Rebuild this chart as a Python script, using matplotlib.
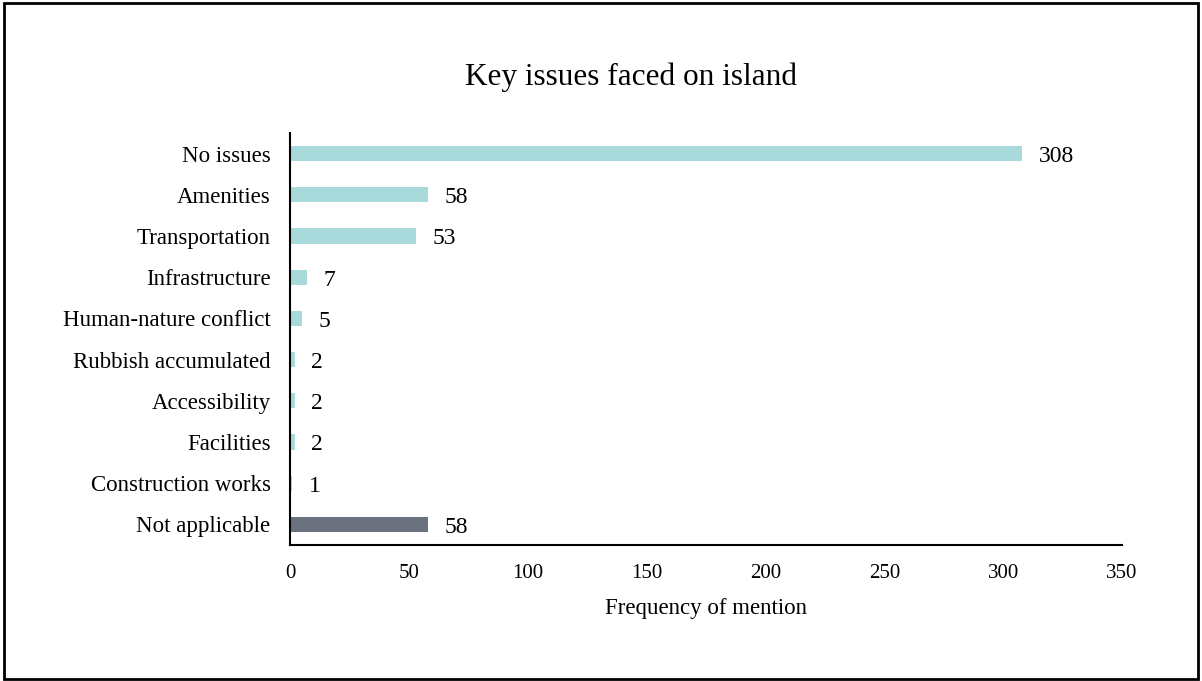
import matplotlib.pyplot as plt
from matplotlib.patches import Rectangle

plt.rcParams['font.family'] = ['Liberation Serif', 'DejaVu Serif']

categories = ['No issues', 'Amenities', 'Transportation', 'Infrastructure',
              'Human-nature conflict', 'Rubbish accumulated', 'Accessibility',
              'Facilities', 'Construction works', 'Not applicable']
counts = [308, 58, 53, 7, 5, 2, 2, 2, 1, 58]
colors = ['#a8dadb'] * 9 + ['#6b717e']

fig = plt.figure(figsize=(12.02, 6.81), dpi=100)
ax = fig.add_axes([0.2413, 0.1997, 0.6921, 0.605])

ypos = list(range(len(categories)))
ax.barh(ypos, counts, height=0.37, color=colors)
for y, v in zip(ypos, counts):
    ax.text(v + 7, y + 0.07, str(v), va='center', ha='left', fontsize=17)

ax.set_ylim(len(categories) - 0.5, -0.5)
ax.set_xlim(0, 350)
ax.set_yticks(ypos)
ax.set_yticklabels(categories, fontsize=16.5)
for lbl in ax.get_yticklabels():
    lbl.set_verticalalignment('center_baseline')
ax.set_xticks(range(0, 351, 50))
ax.tick_params(axis='x', labelsize=15, length=0, pad=14)
ax.tick_params(axis='y', length=0, pad=14)
for s in ['top', 'right']:
    ax.spines[s].set_visible(False)
ax.spines['left'].set_linewidth(1.5)
ax.spines['bottom'].set_linewidth(1.5)
ax.set_xlabel('Frequency of mention', fontsize=16.5, labelpad=10.5)

fig.text(0.525, 0.886, 'Key issues faced on island', ha='center', va='center', fontsize=22.5)

fig.patches.append(Rectangle((0.003, 0.003), 0.994, 0.993, transform=fig.transFigure,
                             fill=False, edgecolor='black', linewidth=2))

fig.savefig('out.png', dpi=100)
